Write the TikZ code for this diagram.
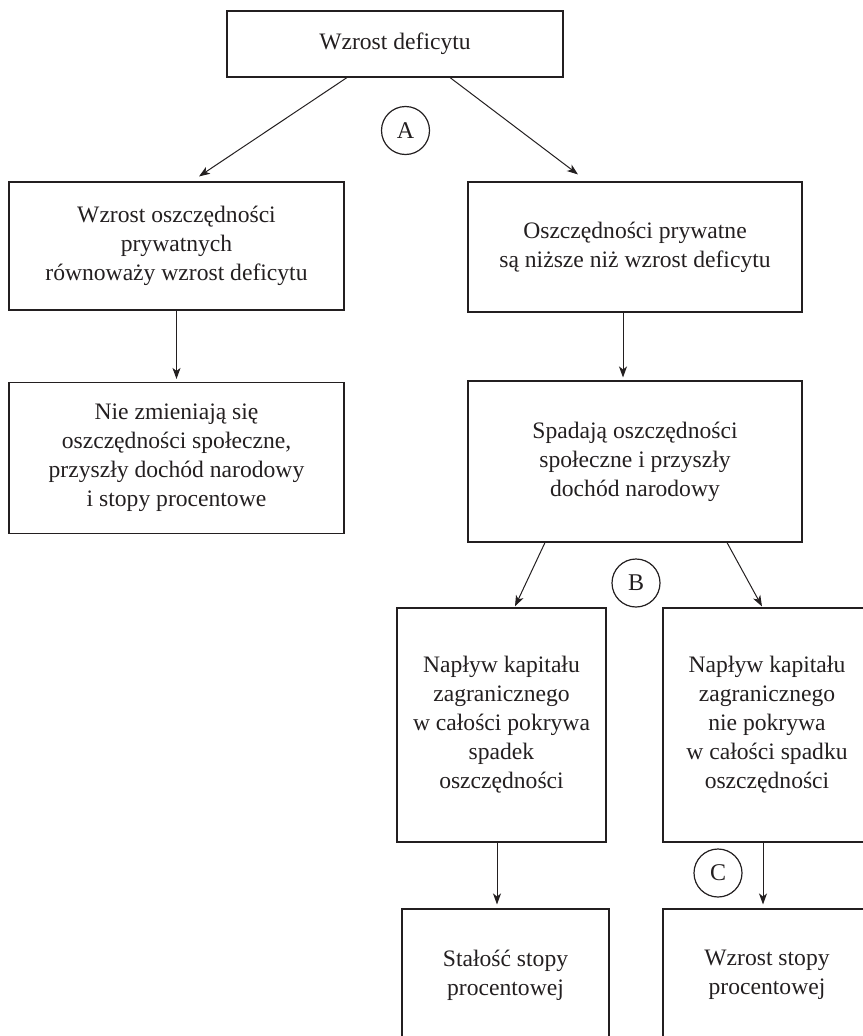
\documentclass[tikz,border=0pt]{standalone}
\usepackage{fontspec}
\setmainfont{Liberation Serif}
\usetikzlibrary{arrows.meta}
\definecolor{ink}{RGB}{35,31,32}
\begin{document}
\begin{tikzpicture}[x=1pt,y=-1pt]
\tikzset{
 box/.style={draw=ink, line width=1.1pt, text=ink, align=center, inner sep=0pt,
   font=\fontsize{23.6}{29}\selectfont},
 lbl/.style={circle, draw=ink, line width=1.2pt, minimum size=48pt, inner sep=0pt,
   text=ink, font=\fontsize{24}{26}\selectfont},
 arr/.style={draw=ink, line width=1pt, -{Stealth[length=11pt,width=8pt,inset=3pt]}}
}
\useasboundingbox (0,0) rectangle (862,1036);
% boxes
\node[box, minimum width=336pt, minimum height=66pt] (T) at (395,44) {Wzrost deficytu};
\node[box, minimum width=335pt, minimum height=128pt] (L1) at (176.5,246)
  {Wzrost oszczędności\\prywatnych\\równoważy wzrost deficytu};
\node[box, minimum width=335pt, minimum height=151pt] (L2) at (176.5,458)
  {Nie zmieniają się\\oszczędności społeczne,\\przyszły dochód narodowy\\i stopy procentowe};
\node[box, minimum width=334pt, minimum height=130pt] (R1) at (635,247)
  {Oszczędności prywatne\\są niższe niż wzrost deficytu};
\node[box, minimum width=334pt, minimum height=161pt] (R2) at (635,461.5)
  {Spadają oszczędności\\społeczne i przyszły\\dochód narodowy};
\node[box, minimum width=209pt, minimum height=234pt] (L3) at (501.5,725)
  {Napływ kapitału\\zagranicznego\\w całości pokrywa\\spadek\\oszczędności};
\node[box, minimum width=208pt, minimum height=234pt] (R3) at (767,725)
  {Napływ kapitału\\zagranicznego\\nie pokrywa\\w całości spadku\\oszczędności};
\node[box, minimum width=207pt, minimum height=132pt] (L4) at (505.5,975)
  {Stałość stopy\\procentowej};
\node[box, minimum width=208pt, minimum height=132pt] (R4) at (767,975)
  {Wzrost stopy\\procentowej};
% circled labels
\node[lbl] (A) at (405.5,130.5) {A};
\node[lbl] (B) at (636,583) {B};
\node[lbl] (C) at (718,873) {C};
% connectors
\draw[arr] ([xshift=-48pt]T.south) -- ([xshift=22.5pt,yshift=5pt]L1.north);
\draw[arr] ([xshift=55pt]T.south) -- ([xshift=-57pt,yshift=7pt]R1.north);
\draw[arr] (L1.south) -- ([yshift=3pt]L2.north);
\draw[arr] ([xshift=-12pt]R1.south) -- ([xshift=-12pt,yshift=3pt]R2.north);
\draw[arr] ([xshift=-90pt]R2.south) -- ([xshift=13.5pt,yshift=1pt]L3.north);
\draw[arr] ([xshift=92pt]R2.south) -- ([xshift=-5pt,yshift=1pt]R3.north);
\draw[arr] ([xshift=-4.5pt]L3.south) -- ([xshift=-8.5pt,yshift=4pt]L4.north);
\draw[arr] ([xshift=-4pt]R3.south) -- ([xshift=-4pt,yshift=4pt]R4.north);
\end{tikzpicture}
\end{document}
